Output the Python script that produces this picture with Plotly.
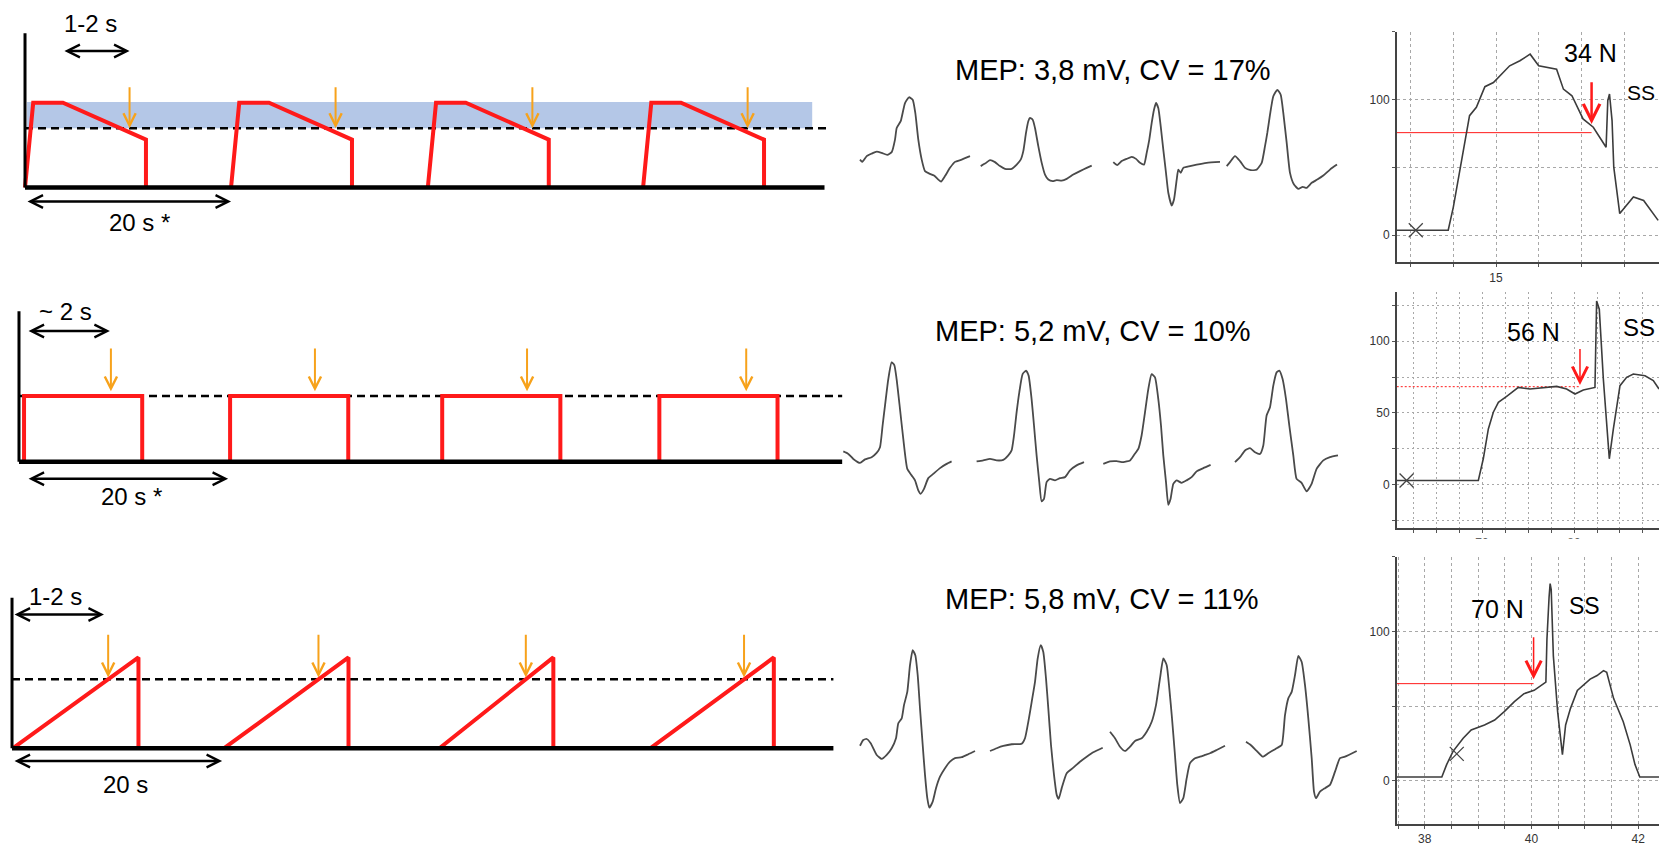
import plotly.graph_objects as go

W, H = 1659, 846

# ---------------- protocol schematics (left column) ----------------
# row A: declining force inside a 70-100 % band
a_onsets = [0, 20.1, 39.3, 60.3]          # s
a_shape_t = [0, 0.8, 3.7, 11.8, 11.8]     # s after onset
a_shape_f = [0, 100, 100, 56.5, 0]        # % force
a_tms_delay = 10.2
a_target = 70
a_band = [70, 101]
a_band_t = [0.2, 76.8]
a_end = 78.0
a_axis_top = 182

# row B: constant force
b_onsets = [0.5, 20.9, 41.9, 63.4]
b_dur = 11.7
b_level = 70
b_tms = [9.1, 29.3, 50.3, 72.0]
b_end = 81.5
b_axis_top = 160

# row C: ramp
c_onsets = [0.1, 20.3, 40.9, 61.1]
c_peaks = [12.1, 32.2, 51.8, 72.9]
c_top = 92.3
c_target = 70
c_end = 78.6
c_axis_top = 153

# ---------------- MEP sweeps (middle column), ms / mV ----------------
mep_labels = ["MEP: 3,8 mV, CV = 17%", "MEP: 5,2 mV, CV = 10%", "MEP: 5,8 mV, CV = 11%"]

mep_a = [
    ([0, 2.3, 6.7, 11.7, 16.7, 21.7, 27.3, 31.7, 35, 36.7, 40.7, 45, 49, 52.7, 55.3, 58.3, 61.7, 65, 69.3, 74, 78.3, 81, 85, 90, 95, 101.7, 110],
     [-0.07, -0.16, 0.07, 0.17, 0.25, 0.2, 0.12, 0.23, 0.73, 1.2, 1.47, 2.2, 2.43, 2.33, 1.8, 0.73, -0.07, -0.53, -0.63, -0.71, -0.87, -0.95, -0.73, -0.4, -0.16, -0.07, 0.07]),
    ([120.7, 125, 130, 135, 140, 145, 151.7, 156.7, 160.7, 163.3, 166, 168.3, 170, 172.7, 175, 178.3, 181.7, 185, 188.3, 192.7, 196.7, 201.7, 206.7, 213.3, 220, 226.7, 231.7],
     [-0.33, -0.23, -0.09, -0.17, -0.33, -0.44, -0.44, -0.27, -0.07, 0.27, 1.0, 1.47, 1.6, 1.53, 1.2, 0.47, -0.2, -0.67, -0.87, -0.93, -0.89, -0.91, -0.84, -0.67, -0.53, -0.4, -0.31]),
    ([253.3, 257.3, 261.7, 266.7, 271.7, 276, 280, 284, 286.7, 289.3, 291.7, 294, 296, 298.3, 300.7, 303.3, 306, 308.3, 311.7, 314, 316.7, 318.3, 320.7, 323.3, 330, 336.7, 346.7, 360],
     [-0.17, -0.29, -0.13, -0.04, 0.04, -0.04, -0.2, -0.27, 0.2, 0.73, 1.4, 1.93, 2.2, 2.0, 1.27, 0.33, -0.6, -1.4, -1.91, -1.67, -0.87, -0.47, -0.6, -0.4, -0.33, -0.27, -0.2, -0.16]),
    ([366.7, 370, 375, 380, 385, 390.7, 396.7, 401.7, 405, 407.3, 410, 413.3, 417.3, 420.7, 423.3, 426.7, 430, 434, 438.3, 442.7, 446.7, 451.7, 457.3, 463.3, 470, 477],
     [-0.33, -0.17, 0.07, -0.13, -0.4, -0.49, -0.47, -0.2, 0.47, 1.0, 1.73, 2.47, 2.73, 2.53, 1.8, 0.6, -0.6, -1.07, -1.24, -1.16, -1.2, -1.0, -0.87, -0.71, -0.47, -0.27]),
]
mep_b = [
    ([0, 5, 10, 16.7, 21.7, 28.3, 33.3, 36.7, 39.3, 41.7, 45, 48.3, 51, 53.3, 56.7, 60, 64, 68.3, 71.7, 75, 77.3, 80.7, 85, 90, 96.7, 103.3, 108.3],
     [0.03, -0.07, -0.27, -0.43, -0.29, -0.2, -0.03, 0.2, 1.07, 1.87, 2.93, 3.6, 3.49, 2.93, 1.73, 0.53, -0.67, -0.93, -1.13, -1.53, -1.67, -1.47, -1.04, -0.87, -0.64, -0.47, -0.37]),
    ([133.3, 140, 146.7, 153.3, 160, 165, 168.3, 170.7, 173.3, 176, 179.3, 182.7, 185.3, 188.3, 190.7, 193.3, 196, 198.3, 200.7, 203.3, 206.7, 211.7, 216.7, 221.7, 226.7, 233.3, 240.7],
     [-0.37, -0.33, -0.27, -0.33, -0.31, -0.13, 0.07, 0.67, 1.6, 2.4, 3.13, 3.27, 3.07, 2.13, 1.07, -0.13, -1.2, -1.97, -1.87, -1.2, -1.07, -1.13, -1.04, -1.0, -0.73, -0.53, -0.4]),
    ([260, 266.7, 273.3, 280, 286.7, 290.7, 295, 298.3, 301.7, 305, 308.3, 311.7, 315, 317.7, 320, 322.7, 325, 327.3, 330, 333.3, 338.3, 343.3, 348.3, 353.3, 360, 367.3],
     [-0.47, -0.37, -0.36, -0.4, -0.33, -0.11, 0.13, 0.67, 1.6, 2.53, 3.13, 3.0, 2.13, 1.07, -0.13, -1.2, -2.11, -1.87, -1.27, -1.13, -1.23, -1.13, -1.0, -0.77, -0.64, -0.51]),
    ([391.7, 396.7, 401.7, 406.7, 411.7, 416.7, 420, 423.3, 426.7, 430, 433.3, 436, 439.3, 442.7, 446, 450, 453.3, 458.3, 463.3, 468.3, 473.3, 480, 486.7, 494.7],
     [-0.4, -0.2, 0.07, 0.16, 0, -0.07, 0.27, 1.47, 1.8, 2.67, 3.2, 3.27, 2.93, 2.13, 1.07, -0.13, -1.07, -1.23, -1.57, -1.27, -0.67, -0.33, -0.2, -0.13]),
]
mep_c = [
    ([0, 3.3, 6.7, 10.7, 16.7, 21.7, 26.7, 31.7, 36, 38.3, 41.7, 44, 47.3, 50, 52.7, 55.3, 57.7, 60, 62.7, 65, 67.3, 69.3, 72.7, 76, 80, 85, 90, 95, 101.7, 108.3, 115],
     [-0.03, 0.2, 0.24, 0.07, -0.4, -0.56, -0.4, -0.13, 0.27, 0.87, 1.07, 1.6, 2.13, 3.2, 3.8, 3.6, 2.8, 1.47, 0, -1.2, -2.13, -2.51, -2.27, -1.73, -1.27, -0.93, -0.67, -0.53, -0.49, -0.37, -0.24]),
    ([130, 136.7, 143.3, 151.7, 161.7, 165, 168.3, 171.7, 175, 177.7, 180.7, 183.3, 186, 188.3, 191, 194, 196.7, 198.7, 201.7, 206.7, 213.3, 220, 226.7, 233.3, 242.7],
     [-0.24, -0.13, -0.04, 0.03, 0.05, 0.27, 0.93, 1.73, 2.53, 3.47, 4.0, 3.73, 2.67, 1.47, 0, -1.2, -2.0, -2.16, -1.73, -1.13, -0.91, -0.67, -0.47, -0.29, -0.11]),
    ([250, 255, 260, 265, 270, 275, 281.7, 286.7, 291.7, 296, 300, 303.3, 306.7, 309.3, 312, 314.7, 317.3, 320, 323.3, 326.7, 330, 335, 340, 345, 350, 356.7, 365],
     [0.53, 0.27, -0.07, -0.24, -0.07, 0.16, 0.27, 0.53, 0.93, 1.6, 2.67, 3.47, 3.2, 2.27, 1.07, -0.27, -1.6, -2.33, -2.13, -1.33, -0.73, -0.53, -0.47, -0.4, -0.33, -0.2, -0.03]),
    ([386, 390.7, 396.7, 402.7, 408.3, 416.7, 421.7, 425, 428.3, 431.7, 435, 438.3, 441.7, 445, 448.3, 451.7, 454, 456, 460, 465, 470, 475, 480, 485, 496.7],
     [0.13, 0, -0.24, -0.47, -0.33, -0.13, 0, 1.2, 1.87, 2.13, 2.8, 3.57, 3.33, 2.4, 1.07, -0.53, -1.87, -2.13, -1.87, -1.73, -1.6, -1.07, -0.53, -0.47, -0.24]),
]

# ---------------- force recordings (right column), s / N ----------------
force_a_t = [13.83, 14.44, 14.50, 14.58, 14.69, 14.77, 14.87, 14.97, 15.16, 15.28, 15.40, 15.50, 15.71, 15.79,
             15.89, 16.02, 16.14, 16.29, 16.31, 16.33, 16.36, 16.38, 16.45, 16.61, 16.73, 16.90]
force_a_v = [3.7, 3.7, 20.8, 50.2, 88.2, 94.4, 109.6, 112.7, 125, 128.7, 133.6, 125, 122.5, 107.8,
             102.9, 85.8, 79.7, 64.9, 99.3, 104.2, 84.6, 50.2, 16, 28.2, 25.7, 11]
force_b_t = [60.73, 69.60, 70.14, 70.69, 71.23, 71.78, 72.68, 73.95, 75.22, 76.67, 78.12, 79.20, 80.11, 81.01,
             82.28, 82.46, 82.75, 83.19, 83.84, 84.28, 85.0, 85.72, 86.45, 87.72, 88.62, 89.24]
force_b_v = [3, 3, 18.1, 38.9, 50.5, 57.4, 61.6, 67.8, 66.7, 67.8, 68.5, 66.7, 63.2, 66.0,
             67.8, 128, 122.2, 73.6, 18.1, 38.9, 69, 74.8, 77.1, 75.9, 72.5, 66.7]
force_c_t = [37.48, 38.32, 38.41, 38.53, 38.72, 38.87, 39.12, 39.31, 39.49, 39.68, 39.86, 40.05, 40.27, 40.29,
             40.33, 40.35, 40.37, 40.41, 40.49, 40.58, 40.64, 40.73, 40.86, 41.10, 41.23, 41.35, 41.41, 41.54,
             41.72, 41.85, 41.94, 42.03, 42.39]
force_c_v = [2.5, 2.5, 10.8, 19.7, 28.5, 34, 37.3, 40.6, 46.3, 53, 58.3, 60.5, 66, 94.7,
             123, 132, 128, 83.6, 46.3, 17.4, 37.3, 48.3, 60.5, 68, 70.4, 73.7, 72.6, 55,
             39.5, 24, 10.8, 2.5, 2.5]

force_labels = ["34 N", "56 N", "70 N"]
ref_level = [75.7, 68.3, 65]          # force at stimulus
tms_time = [16.12, 80.65, 40.04]      # stimulus time
tms_arrow = [(114, 82), (95.6, 69.4), (97, 68)]
onset_mark = [(14.06, 3.7), (61.8, 3), (38.6, 18)]

RED = "#ff1a1a"
ORANGE = "#f7a21b"
GREY = "#3c3c3c"
NARROW = "Liberation Sans Narrow, Arial Narrow, Liberation Sans"
SANS = "Liberation Sans, Arial"


def dx(a, b):
    return [a / W, b / W]


def dy(top, bottom):
    return [1 - bottom / H, 1 - top / H]


fig = go.Figure()


def line(xs, ys, ax, color, width, dash=None, shape="linear"):
    fig.add_trace(go.Scatter(x=xs, y=ys, mode="lines", xaxis="x" + ax, yaxis="y" + ax,
                             line=dict(color=color, width=width, dash=dash, shape=shape,
                                       smoothing=0.5 if shape == "spline" else None),
                             hoverinfo="skip"))


def arrow(ax, x0, y0, x1, y1, color, width, size, both=False):
    xr = "x" + ax if ax != "1" else "x"
    yr = "y" + ax if ax != "1" else "y"
    fig.add_annotation(x=x1, y=y1, ax=x0, ay=y0, xref=xr, yref=yr, axref=xr, ayref=yr,
                       text="", showarrow=True, arrowhead=5, arrowsize=size, arrowwidth=width,
                       arrowcolor=color, standoff=0, startstandoff=0,
                       arrowside="end+start" if both else "end",
                       startarrowhead=5, startarrowsize=size)


def label(ax, x, y, txt, size, family=SANS, color="black"):
    xr = "x" + ax if ax != "1" else "x"
    yr = "y" + ax if ax != "1" else "y"
    fig.add_annotation(x=x, y=y, xref=xr, yref=yr, text=txt, showarrow=False,
                       xanchor="center", yanchor="middle",
                       font=dict(family=family, size=size, color=color))


def ptext(x, y, txt, size):
    fig.add_annotation(x=x / W, y=1 - y / H, xref="paper", yref="paper", text=txt,
                       showarrow=False, xanchor="center", yanchor="middle",
                       font=dict(family=SANS, size=size, color="black"))


# ---- row A schematic ----
line([a_band_t[0], a_band_t[1], a_band_t[1], a_band_t[0], a_band_t[0]],
     [a_band[0], a_band[0], a_band[1], a_band[1], a_band[0]], "", "#b4c7e7", 0)
fig.data[-1].update(fill="toself", fillcolor="#b4c7e7")
line([0, a_end + 0.3], [a_target, a_target], "", "black", 2.5, dash="8px,5px")
for on in a_onsets:
    line([on + t for t in a_shape_t], a_shape_f, "", RED, 4)
line([0, a_end], [0, 0], "", "black", 4.5)
line([0, 0], [0, a_axis_top], "", "black", 3)
for on in a_onsets:
    arrow("1", on + a_tms_delay, 120, on + a_tms_delay, a_target, ORANGE, 2, 1.2)
arrow("1", a_shape_t[2], 161, a_tms_delay, 161, "black", 2.5, 1.0, both=True)
arrow("1", 0.1, -16.5, 20.1, -16.5, "black", 2.5, 1.0, both=True)
label("1", 6.4, 193, "1-2 s", 24, NARROW)
label("1", 11.2, -41, "20 s *", 24, NARROW)

# ---- row B schematic ----
line([0, b_end], [b_level, b_level], "2", "black", 2.5, dash="8px,5px")
for on in b_onsets:
    line([on, on, on + b_dur, on + b_dur], [0, b_level, b_level, 0], "2", RED, 4)
line([0, b_end], [0, 0], "2", "black", 4.5)
line([0, 0], [0, b_axis_top], "2", "black", 3)
for t in b_tms:
    arrow("2", t, 122, t, b_level + 5, ORANGE, 2, 1.2)
arrow("2", 0.8, 139, 9.0, 139, "black", 2.5, 1.0, both=True)
arrow("2", 0.8, -18, 20.7, -18, "black", 2.5, 1.0, both=True)
label("2", 4.6, 160, "~ 2 s", 24, NARROW)
label("2", 11.1, -37, "20 s *", 24, NARROW)

# ---- row C schematic ----
line([0, c_end], [c_target, c_target], "3", "black", 2.5, dash="8px,5px")
for on, pk in zip(c_onsets, c_peaks):
    line([on, pk, pk], [0, c_top, 0], "3", RED, 4)
line([0, c_end], [0, 0], "3", "black", 4.5)
line([0, 0], [0, c_axis_top], "3", "black", 3)
for on, pk in zip(c_onsets, c_peaks):
    tx = on + (pk - on) * c_target / c_top
    arrow("3", tx, 117, tx, c_target + 2, ORANGE, 2, 1.2)
arrow("3", 0.1, 136, 8.8, 136, "black", 2.5, 1.0, both=True)
arrow("3", 0.1, -13, 20.1, -13, "black", 2.5, 1.0, both=True)
label("3", 4.2, 154, "1-2 s", 24, NARROW)
label("3", 10.9, -37, "20 s", 24, NARROW)

# ---- MEP sweeps ----
for ax, sweeps in zip(["4", "5", "6"], [mep_a, mep_b, mep_c]):
    for t, v in sweeps:
        line(t, v, ax, "#4a4a4a", 1.8, shape="spline")
ptext(1113, 70, mep_labels[0], 29)
ptext(1093, 332, mep_labels[1], 29)
ptext(1102, 600, mep_labels[2], 29)

# ---- force recordings ----
force = [(force_a_t, force_a_v), (force_b_t, force_b_v), (force_c_t, force_c_v)]
for i, ax in enumerate(["7", "8", "9"]):
    t, v = force[i]
    line([t[0], tms_time[i]], [ref_level[i], ref_level[i]], ax, RED, 1,
         dash="2px,2px" if i == 1 else None)
    line(t, v, ax, GREY, 1.6)
    fig.add_trace(go.Scatter(x=[onset_mark[i][0]], y=[onset_mark[i][1]], mode="markers",
                             xaxis="x" + ax, yaxis="y" + ax, hoverinfo="skip",
                             marker=dict(symbol="x-thin-open", size=14, color="#444",
                                         line=dict(color="#444", width=1.3))))
    arrow(ax, tms_time[i], tms_arrow[i][0], tms_time[i], tms_arrow[i][1], RED,
          2.5 if i == 0 else 1.5, 1.3 if i == 0 else 2.0)

ptext(1590, 53, force_labels[0], 25)
ptext(1641, 93, "SS", 21)
ptext(1533, 333, force_labels[1], 25)
ptext(1639, 328, "SS", 24)
ptext(1497, 610, force_labels[2], 25)
ptext(1584, 607, "SS", 23)

hidden = dict(visible=False, fixedrange=True)


def rax(dom, rng, vals, mdt, dash, **kw):
    d = dict(domain=dom, range=rng, tickmode="array", tickvals=vals, showline=True,
             linecolor="#444", linewidth=2, ticks="outside", ticklen=3, tickcolor="#555",
             showgrid=True, gridcolor="#a8a8a8", griddash=dash, gridwidth=1, zeroline=False,
             tickfont=dict(family=SANS, size=12, color="#333"),
             minor=dict(dtick=mdt, tick0=0, showgrid=True, gridcolor="#a8a8a8", griddash=dash,
                        ticks="outside", ticklen=3, tickcolor="#555"))
    d.update(kw)
    return d


DASH = "3px,3px"
DOT = "2px,3px"

fig.update_layout(
    width=W, height=H, margin=dict(l=0, r=0, t=0, b=0),
    paper_bgcolor="white", plot_bgcolor="rgba(0,0,0,0)", showlegend=False,
    xaxis=dict(domain=dx(0, 845), range=[-2.44, 80.0], anchor="y", **hidden),
    yaxis=dict(domain=dy(0, 282), range=[-110.6, 221.2], anchor="x", **hidden),
    xaxis2=dict(domain=dx(0, 845), range=[-1.88, 81.78], anchor="y2", **hidden),
    yaxis2=dict(domain=dy(282, 540), range=[-81.7, 191.9], anchor="x2", **hidden),
    xaxis3=dict(domain=dx(0, 845), range=[-1.15, 79.71], anchor="y3", **hidden),
    yaxis3=dict(domain=dy(540, 846), range=[-97.4, 213], anchor="x3", **hidden),
    xaxis4=dict(domain=dx(830, 1400), range=[-30, 540], anchor="y4", **hidden),
    yaxis4=dict(domain=dy(0, 282), range=[-4.95, 6.33], anchor="x4", **hidden),
    xaxis5=dict(domain=dx(830, 1400), range=[-13.3, 556.7], anchor="y5", **hidden),
    yaxis5=dict(domain=dy(282, 540), range=[-3.47, 6.85], anchor="x5", **hidden),
    xaxis6=dict(domain=dx(830, 1400), range=[-30, 540], anchor="y6", **hidden),
    yaxis6=dict(domain=dy(540, 846), range=[-3.97, 8.27], anchor="x6", **hidden),
    xaxis7=rax(dx(1397, 1659), [13.84, 16.91], [15], 0.5, DASH, anchor="y7"),
    yaxis7=rax(dy(32, 263), [-20, 150], [0, 100], 50, DASH, anchor="x7"),
    xaxis8=rax(dx(1397, 1659), [60.76, 89.24], [70, 80], 2.5, DOT, anchor="y8"),
    yaxis8=rax(dy(293, 529), [-29.9, 134], [0, 50, 100], 25, DOT, anchor="x8"),
    xaxis9=rax(dx(1397, 1659), [37.48, 42.39], [38, 40, 42], 0.5, DASH, anchor="y9"),
    yaxis9=rax(dy(558, 826), [-29, 150], [0, 100], 50, DASH, anchor="x9"),
)

# lower half of the middle panel's time labels is hidden behind the next panel
fig.add_shape(type="rect", xref="paper", yref="paper", x0=1380 / W, x1=1,
              y0=1 - 556 / H, y1=1 - 540 / H, fillcolor="white", line=dict(width=0), layer="above")

# the page's default body margin would push the figure off the window
fig.write_html("out.html", config={"displayModeBar": False},
               post_script="document.body.style.margin='0';document.body.style.overflow='hidden';")
